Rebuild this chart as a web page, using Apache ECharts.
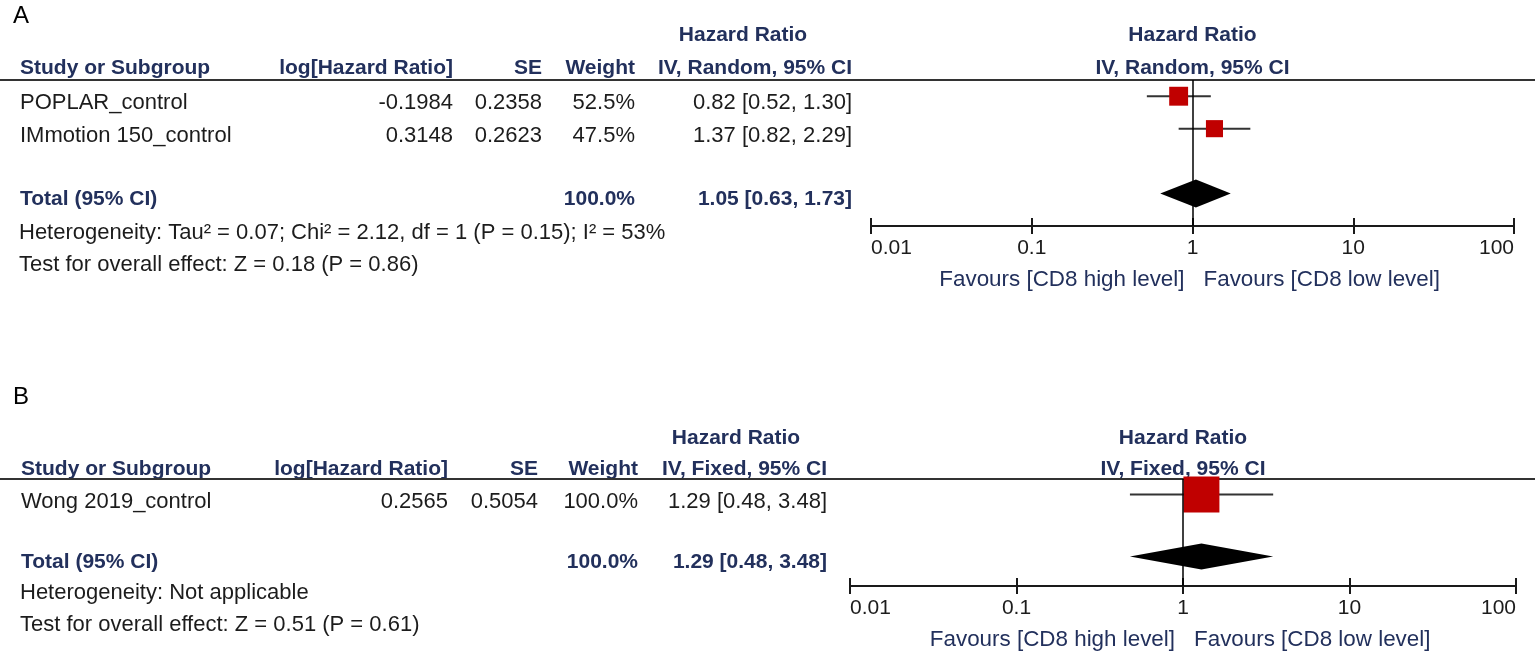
<!DOCTYPE html>
<html>
<head>
<meta charset="utf-8">
<script src="https://cdn.jsdelivr.net/npm/echarts@6/dist/echarts.min.js"></script>
<style>
  html, body { margin: 0; padding: 0; background: #fff; }
  #main { width: 1535px; height: 651px; }
</style>
</head>
<body>
<div id="main"></div>
<script>
// panel A - random effects
const studiesA = ['POPLAR_control', 'IMmotion 150_control']
const logHrA = [-0.1984, 0.3148]
const seA = [0.2358, 0.2623]
const weightA = [52.5, 47.5]
const hrA = [0.82, 1.37]
const loA = [0.52, 0.82]
const hiA = [1.30, 2.29]
const totalA = [1.05, 0.63, 1.73]
const hetA = 'Heterogeneity: Tau\u00b2 = 0.07; Chi\u00b2 = 2.12, df = 1 (P = 0.15); I\u00b2 = 53%'
const testA = 'Test for overall effect: Z = 0.18 (P = 0.86)'

// panel B - fixed effect
const studiesB = ['Wong 2019_control']
const logHrB = [0.2565]
const seB = [0.5054]
const weightB = [100.0]
const hrB = [1.29]
const loB = [0.48]
const hiB = [3.48]
const totalB = [1.29, 0.48, 3.48]
const hetB = 'Heterogeneity: Not applicable'
const testB = 'Test for overall effect: Z = 0.51 (P = 0.61)'

const tickLabels = ['0.01', '0.1', '1', '10', '100']
const favours = ['Favours [CD8 high level]', 'Favours [CD8 low level]']

const FONT = '"Liberation Sans", Arial, sans-serif'
const NAVY = '#22305c'
const INK = '#1c1c1c'

// layout of the two panels
const panels = [
  {
    letter: 'A', letterY: 16, method: 'IV, Random, 95% CI',
    studies: studiesA, logHr: logHrA, se: seA, weight: weightA, hr: hrA, lo: loA, hi: hiA, total: totalA,
    het: hetA, test: testA,
    grid: { left: 871, top: 80, width: 643, height: 146 }, ymax: 4.5,
    cols: { study: 20, log: 453, se: 542, weight: 635, ci: 852 },
    hdr1: 35, hdr2: 68, hdrCenter: 743, hetY: 233, testY: 265
  },
  {
    letter: 'B', letterY: 397, method: 'IV, Fixed, 95% CI',
    studies: studiesB, logHr: logHrB, se: seB, weight: weightB, hr: hrB, lo: loB, hi: hiB, total: totalB,
    het: hetB, test: testB,
    grid: { left: 850, top: 479, width: 666, height: 107 }, ymax: 3.45,
    cols: { study: 21, log: 448, se: 538, weight: 638, ci: 827 },
    hdr1: 438, hdr2: 469, hdrCenter: 736, hetY: 593, testY: 625
  }
]

function rowPx(p, pos) {
  return p.grid.top + pos * p.grid.height / p.ymax
}
function ciText(v) {
  return v[0].toFixed(2) + ' [' + v[1].toFixed(2) + ', ' + v[2].toFixed(2) + ']'
}
function txt(text, x, y, opts) {
  opts = opts || {}
  return {
    type: 'text',
    silent: true,
    style: {
      text: text, x: x, y: y,
      fill: opts.fill || INK,
      font: (opts.bold ? 'bold ' : '') + (opts.size || (opts.bold ? 21 : 22)) + 'px ' + (opts.family || FONT),
      align: opts.align || 'left', textAlign: opts.align || 'left',
      verticalAlign: 'middle', textVerticalAlign: 'middle'
    }
  }
}

const graphics = []
const grids = []
const xAxes = []
const yAxes = []
const series = []

panels.forEach((p, k) => {
  // table text
  graphics.push(txt(p.letter, 13, p.letterY, { size: 24, fill: '#000' }))
  graphics.push(txt('Hazard Ratio', p.hdrCenter, p.hdr1, { bold: true, fill: NAVY, align: 'center' }))
  graphics.push(txt('Study or Subgroup', p.cols.study, p.hdr2, { bold: true, fill: NAVY }))
  graphics.push(txt('log[Hazard Ratio]', p.cols.log, p.hdr2, { bold: true, fill: NAVY, align: 'right' }))
  graphics.push(txt('SE', p.cols.se, p.hdr2, { bold: true, fill: NAVY, align: 'right' }))
  graphics.push(txt('Weight', p.cols.weight, p.hdr2, { bold: true, fill: NAVY, align: 'right' }))
  graphics.push(txt(p.method, p.cols.ci, p.hdr2, { bold: true, fill: NAVY, align: 'right' }))

  p.studies.forEach((s, i) => {
    const y = rowPx(p, i + 0.5) + 7
    graphics.push(txt(s, p.cols.study, y))
    graphics.push(txt(p.logHr[i].toFixed(4), p.cols.log, y, { align: 'right' }))
    graphics.push(txt(p.se[i].toFixed(4), p.cols.se, y, { align: 'right' }))
    graphics.push(txt(p.weight[i].toFixed(1) + '%', p.cols.weight, y, { align: 'right' }))
    graphics.push(txt(ciText([p.hr[i], p.lo[i], p.hi[i]]), p.cols.ci, y, { align: 'right' }))
  })
  const totalPos = p.studies.length + 1.5
  const ty = rowPx(p, totalPos) + 6
  const wsum = p.weight.reduce((a, b) => a + b, 0)
  graphics.push(txt('Total (95% CI)', p.cols.study, ty, { bold: true, fill: NAVY }))
  graphics.push(txt(wsum.toFixed(1) + '%', p.cols.weight, ty, { bold: true, fill: NAVY, align: 'right' }))
  graphics.push(txt(ciText(p.total), p.cols.ci, ty, { bold: true, fill: NAVY, align: 'right' }))
  graphics.push(txt(p.het, p.cols.study - 1, p.hetY))
  graphics.push(txt(p.test, p.cols.study - 1, p.testY))

  // separator line across the page
  graphics.push({
    type: 'line', silent: true,
    shape: { x1: 0, y1: p.grid.top, x2: 1535, y2: p.grid.top },
    style: { stroke: '#333', lineWidth: 2 }
  })

  // plot headers, centred on the line of no effect
  const zeroX = p.grid.left + p.grid.width / 2
  graphics.push(txt('Hazard Ratio', zeroX, p.hdr1, { bold: true, fill: NAVY, align: 'center' }))
  graphics.push(txt(p.method, zeroX, p.hdr2, { bold: true, fill: NAVY, align: 'center' }))
  const favY = p.grid.top + p.grid.height + 54
  graphics.push(txt(favours[0], zeroX - 8, favY, { fill: NAVY, align: 'right', size: 22.4 }))
  graphics.push(txt(favours[1], zeroX + 11, favY, { fill: NAVY, size: 22.4 }))

  grids.push({ left: p.grid.left, top: p.grid.top, width: p.grid.width, height: p.grid.height })
  const axisBase = {
    type: 'log', logBase: 10, min: 0.01, max: 100, gridIndex: k, position: 'bottom',
    splitLine: { show: false }
  }
  xAxes.push(Object.assign({}, axisBase, {
    axisLine: { show: true, onZero: false, lineStyle: { color: '#1a1a1a', width: 2 } },
    axisTick: { show: true, length: 8, lineStyle: { color: '#1a1a1a', width: 2 } },
    axisLabel: {
      color: INK, fontSize: 21, fontFamily: FONT, margin: 12,
      alignMinLabel: 'left', alignMaxLabel: 'right',
      formatter: (v) => tickLabels.find((t) => Math.abs(Math.log10(+t) - Math.log10(v)) < 1e-6) || ''
    }
  }))
  // second axis only for the ticks that point up into the plot
  xAxes.push(Object.assign({}, axisBase, {
    axisLine: { show: false, onZero: false },
    axisTick: { show: true, inside: true, length: 8, lineStyle: { color: '#1a1a1a', width: 2 } },
    axisLabel: { show: false }
  }))
  yAxes.push({ type: 'value', gridIndex: k, min: 0, max: p.ymax, inverse: true, show: false })

  const studyData = p.studies.map((s, i) => [p.hr[i], p.lo[i], p.hi[i], p.weight[i], i + 0.5])
  series.push({
    type: 'custom',
    name: 'studies' + p.letter,
    xAxisIndex: k * 2,
    yAxisIndex: k,
    z: 3,
    data: studyData,
    encode: { x: [0, 1, 2], y: 4 },
    renderItem: (params, api) => {
      const c = api.coord([api.value(0), api.value(4)])
      const l = api.coord([api.value(1), api.value(4)])
      const r = api.coord([api.value(2), api.value(4)])
      const size = api.value(3) * 0.36
      return {
        type: 'group',
        children: [
          { type: 'line', shape: { x1: l[0], y1: l[1], x2: r[0], y2: r[1] }, style: { stroke: '#333', lineWidth: 2 } },
          { type: 'rect', shape: { x: c[0] - size / 2, y: c[1] - size / 2, width: size, height: size }, style: { fill: '#c00000' } }
        ]
      }
    },
    markLine: {
      silent: true, symbol: 'none', label: { show: false }, animation: false,
      lineStyle: { color: '#000', width: 1.5, type: 'solid' },
      data: [{ xAxis: 1 }]
    }
  })
  series.push({
    type: 'custom',
    name: 'total' + p.letter,
    xAxisIndex: k * 2,
    yAxisIndex: k,
    z: 4,
    data: [[p.total[0], p.total[1], p.total[2], totalPos]],
    encode: { x: [0, 1, 2], y: 3 },
    renderItem: (params, api) => {
      const c = api.coord([api.value(0), api.value(3)])
      const l = api.coord([api.value(1), api.value(3)])
      const r = api.coord([api.value(2), api.value(3)])
      const h = k === 0 ? 14 : 13
      return {
        type: 'polygon',
        shape: { points: [[l[0], c[1]], [c[0], c[1] - h], [r[0], c[1]], [c[0], c[1] + h]] },
        style: { fill: '#000' }
      }
    }
  })
})

const myChart = echarts.init(document.getElementById('main'), null, { renderer: 'canvas' })
myChart.setOption({
  backgroundColor: '#fff',
  animation: false,
  grid: grids,
  xAxis: xAxes,
  yAxis: yAxes,
  series: series,
  graphic: graphics
})
</script>
</body>
</html>
